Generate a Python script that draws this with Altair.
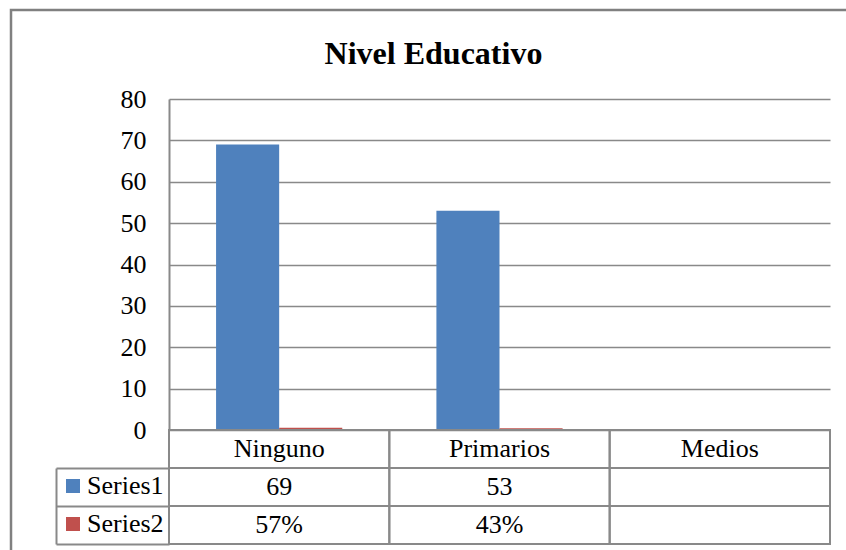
import altair as alt
import pandas as pd

# ---- data ----
categories = ["Ninguno", "Primarios", "Medios"]
series_names = ["Series1", "Series2"]
series1_values = [69, 53, None]
series2_percent = [57, 43, None]
y_ticks = [0, 10, 20, 30, 40, 50, 60, 70, 80]
table_rows = ["Nivel", "Series1", "Series2"]
series_colors = ["#4F81BD", "#C0504D"]

FONT = "Liberation Serif"
GRAY = "#898989"
FRAME = "#808080"

# bars table
bar_records = []
for c, v1, v2 in zip(categories, series1_values, series2_percent):
    if v1 is not None:
        bar_records.append({"cat": c, "series": "Series1", "value": v1})
    if v2 is not None:
        bar_records.append({"cat": c, "series": "Series2", "value": v2 / 100})
bars_df = pd.DataFrame(bar_records)

# data table cells
cell_records = []
for c, v1, v2 in zip(categories, series1_values, series2_percent):
    cell_records.append({"cat": c, "row": table_rows[0], "label": c})
    cell_records.append({"cat": c, "row": "Series1", "label": "" if v1 is None else str(v1)})
    cell_records.append({"cat": c, "row": "Series2", "label": "" if v2 is None else f"{v2}%"})
cells_df = pd.DataFrame(cell_records)
labels_df = pd.DataFrame({"lab": series_names})

# ---- scales (layout ranges in pixels inside the frame) ----
x_scale = alt.Scale(domain=categories, range=[158, 819], paddingInner=0, paddingOuter=0)
val_scale = alt.Scale(domain=[0, 80], range=[420, 89], nice=False)
row_scale = alt.Scale(domain=table_rows, range=[420, 534], paddingInner=0, paddingOuter=0)
lab_scale = alt.Scale(domain=series_names, range=[458, 534], paddingInner=0, paddingOuter=0)

bar_layer = alt.Chart(bars_df).mark_bar().encode(
    x=alt.X("cat:N", scale=x_scale, axis=None),
    xOffset=alt.XOffset("series:N", scale=alt.Scale(domain=series_names, paddingInner=0, paddingOuter=0.746)),
    y=alt.Y(
        "value:Q",
        scale=val_scale,
        axis=alt.Axis(
            orient="left", offset=-158, values=y_ticks, grid=True, gridColor=GRAY, gridWidth=1.5,
            domain=True, domainColor=GRAY, domainWidth=2, ticks=False, tickSize=0, labelPadding=23,
            labelFont=FONT, labelFontSize=26, labelColor="black", title=None,
        ),
    ),
    color=alt.Color(
        "series:N",
        scale=alt.Scale(domain=series_names, range=series_colors),
        legend=alt.Legend(
            orient="none", legendX=49, legendY=463, direction="vertical", title=None,
            symbolType="square", symbolSize=196, symbolStrokeWidth=0, symbolOpacity=1,
            labelFont=FONT, labelFontSize=26, labelColor="black", labelOffset=1,
            rowPadding=12, padding=0,
        ),
    ),
)

cell_rect = alt.Chart(cells_df).mark_rect(fillOpacity=0, stroke=GRAY, strokeWidth=2).encode(
    x=alt.X("cat:N", scale=x_scale, axis=None),
    y=alt.Y(
        "row:N",
        scale=row_scale,
        axis=alt.Axis(
            orient="left", offset=-158, labels=False, domain=False, grid=False, ticks=True,
            tickSize=113, tickWidth=2, tickColor=GRAY, bandPosition=1, title=None,
        ),
    ),
)

cell_text = alt.Chart(cells_df).mark_text(font=FONT, fontSize=26, color="black").encode(
    x=alt.X("cat:N", scale=x_scale, axis=None),
    y=alt.Y("row:N", scale=row_scale, axis=None),
    text="label:N",
)

lab_layer = alt.Chart(labels_df).mark_point(opacity=0).encode(
    y=alt.Y(
        "lab:N",
        scale=lab_scale,
        axis=alt.Axis(
            orient="left", offset=-45, labels=False, ticks=False, grid=False,
            domain=True, domainColor=GRAY, domainWidth=2, title=None,
        ),
    ),
)

chart = (
    alt.layer(bar_layer, cell_rect, cell_text, lab_layer)
    .resolve_scale(y="independent")
    .properties(
        width=835,
        height=540,
        autosize=alt.AutoSizeParams(type="none"),
        padding={"left": 11, "top": 10, "right": 0, "bottom": 0},
        view=alt.ViewBackground(stroke=FRAME, strokeWidth=2.5, strokeDash=[835, 1375], fill="white"),
        title=alt.Title(
            "Nivel Educativo", font=FONT, fontSize=32, fontWeight="bold", color="black",
            anchor="middle", offset=-86, baseline="alphabetic", dx=5,
        ),
    )
    .configure_view(stroke=FRAME, strokeWidth=2.5, strokeDash=[835, 1375])
    .configure_legend(labelFont=FONT, labelFontSize=26, labelColor="black")
    .configure_title(font=FONT)
    .configure(background="white", font=FONT)
)

chart.save("out.html", embed_options={"renderer": "svg", "actions": False})
